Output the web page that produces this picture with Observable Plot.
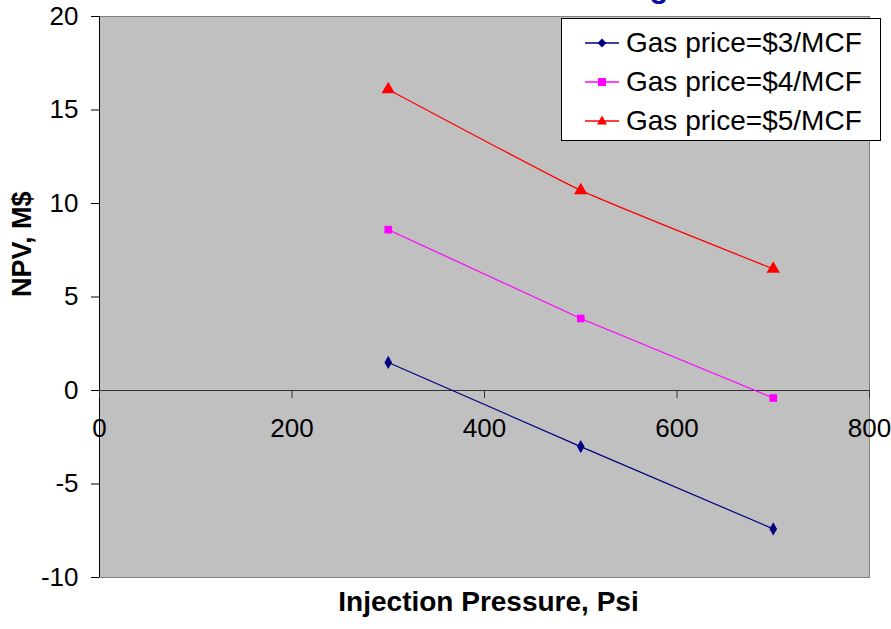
<!DOCTYPE html>
<html>
<head>
<meta charset="utf-8">
<script src="https://cdn.jsdelivr.net/npm/d3@7"></script>
<script src="https://cdn.jsdelivr.net/npm/@observablehq/plot@0.6"></script>
<style>
  html, body { margin: 0; padding: 0; background: #fff; }
  #wrap { position: relative; width: 891px; height: 629px; overflow: hidden; font-family: "Liberation Sans", Arial, sans-serif; }
  #legend { position: absolute; left: 561px; top: 18px; width: 318px; height: 121px; background: #fff; border: 1px solid #000; box-sizing: content-box; }
  .row { position: absolute; left: 0; height: 40px; display: flex; align-items: center; }
  .row svg { display: block; margin-left: 23px; margin-right: 7px; }
  .row span { font-size: 28px; color: #000; white-space: nowrap; }
</style>
</head>
<body>
<div id="wrap"></div>
<script>
// Injection pressure (psi) tested and the resulting NPV (M$) for each gas price
const pressures = [300, 500, 700];
const seriesNames = ["Gas price=$3/MCF", "Gas price=$4/MCF", "Gas price=$5/MCF"];
const npvGas3 = [1.5, -3.0, -7.4];
const npvGas4 = [8.6, 3.85, -0.4];
const npvGas5 = [16.1, 10.7, 6.5];
const seriesColors = ["#000080", "#ff00ff", "#ff0000"];
const seriesSymbols = ["diamond", "square", "triangle"];

const xTicks = [0, 200, 400, 600, 800];
const yTicks = [-10, -5, 0, 5, 10, 15, 20];
const chartTitle = "Effect of Gas Pricing";
const xLabel = "Injection Pressure, Psi";
const yLabel = "NPV, M$";

const seriesValues = [npvGas3, npvGas4, npvGas5];
const rows = seriesNames.flatMap((name, s) =>
  pressures.map((p, i) => ({series: name, pressure: p, npv: seriesValues[s][i]}))
);
const curves = ["linear", "linear", "cardinal"];
const radii = [4, 4.3, 5];

const font = "Liberation Sans, Arial, sans-serif";

const seriesMarks = seriesNames.flatMap((name, s) => {
  const data = rows.filter(d => d.series === name);
  return [
    Plot.line(data, {x: "pressure", y: "npv", stroke: seriesColors[s], strokeWidth: 1.2, curve: curves[s], tension: 0.6}),
    Plot.dot(data, {x: "pressure", y: "npv", symbol: () => seriesSymbols[s], fill: seriesColors[s], stroke: "none", r: radii[s]})
  ];
});

const chart = Plot.plot({
  width: 891,
  height: 629,
  marginLeft: 99,
  marginRight: 22,
  marginTop: 16,
  marginBottom: 52,
  style: {fontFamily: font, background: "transparent", overflow: "hidden"},
  x: {domain: [0, 800], axis: null},
  y: {domain: [-10, 20], axis: null},
  symbol: {type: "identity"},
  marks: [
    Plot.frame({fill: "#c0c0c0"}),
    Plot.frame({stroke: "#808080", strokeWidth: 1}),
    // chart title, sitting above the top edge of the page
    Plot.text([chartTitle], {frameAnchor: "top-right", dx: -201, dy: -20, lineAnchor: "bottom", textAnchor: "end", fontSize: 31, fontWeight: "bold", fill: "#0c0ca8"}),
    // axis lines
    Plot.ruleX([0], {stroke: "#000", strokeWidth: 1}),
    Plot.ruleY([0], {stroke: "#333", strokeWidth: 1}),
    // tick marks
    Plot.ruleY(yTicks, {y: d => d, x1: 0, x2: 0, insetLeft: -8, stroke: "#000"}),
    Plot.ruleX(xTicks, {x: d => d, y1: 0, y2: 0, insetBottom: -8, stroke: "#333"}),
    // tick labels
    Plot.text(yTicks, {x: 0, y: d => d, text: d => String(d), textAnchor: "end", dx: -21, fontSize: 26, fill: "#000"}),
    Plot.text(xTicks, {x: d => d, y: 0, text: d => String(d), dy: 38, fontSize: 26, fill: "#000"}),
    // axis titles
    Plot.text([xLabel], {frameAnchor: "bottom", dx: 4, dy: 33, fontSize: 28, fontWeight: "bold", fill: "#000"}),
    Plot.text([yLabel], {frameAnchor: "left", dx: -77, rotate: -90, fontSize: 27, fontWeight: "bold", fill: "#000"}),
    ...seriesMarks
  ]
});

const wrap = document.getElementById("wrap");
wrap.appendChild(chart);

// legend box
const legend = document.createElement("div");
legend.id = "legend";
const symbolPaths = {
  diamond: "M0,-4.5L4.5,0L0,4.5L-4.5,0Z",
  square: "M-4,-4H4V4H-4Z",
  triangle: "M0,-5.5L5,3.5H-5Z"
};
seriesNames.forEach((name, s) => {
  const row = document.createElement("div");
  row.className = "row";
  row.style.top = (4 + s * 39) + "px";
  row.innerHTML =
    `<svg width="34" height="14" viewBox="-17 -7 34 14">` +
    `<line x1="-17" x2="17" y1="0" y2="0" stroke="${seriesColors[s]}" stroke-width="1.5"/>` +
    `<path d="${symbolPaths[seriesSymbols[s]]}" fill="${seriesColors[s]}"/></svg>` +
    `<span>${name}</span>`;
  legend.appendChild(row);
});
wrap.appendChild(legend);
</script>
</body>
</html>
